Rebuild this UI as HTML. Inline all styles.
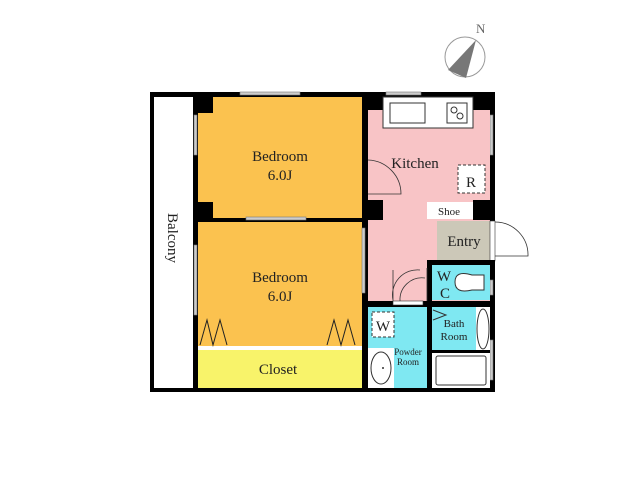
<!DOCTYPE html>
<html><head><meta charset="utf-8"><style>body{margin:0;background:#fff}svg{display:block}text{font-family:"Liberation Serif",serif;fill:#222}</style></head><body>
<svg width="640" height="480" viewBox="0 0 640 480" xmlns="http://www.w3.org/2000/svg">
<!-- compass -->
<circle cx="465" cy="57" r="20" fill="none" stroke="#999" stroke-width="1"/>
<polygon points="476,40 448,70 466,78" fill="#777"/>
<text x="476" y="33" font-family="Liberation Sans" font-size="13" fill="#666" style="fill:#666">N</text>
<!-- outer black -->
<rect x="150" y="92" width="345" height="300" fill="#000"/>
<rect x="154" y="97" width="39" height="291" fill="#fff"/>
<!-- bedrooms -->
<rect x="198" y="97" width="164" height="121" fill="#fbc24f"/>
<rect x="198" y="222" width="164" height="124" fill="#fbc24f"/>
<rect x="195" y="97" width="18" height="16" fill="#000"/>
<rect x="195" y="202" width="18" height="16" fill="#000"/>
<rect x="198" y="346" width="164" height="4" fill="#fff"/>
<rect x="198" y="350" width="164" height="38" fill="#f8f36a"/>
<!-- windows -->
<g fill="#ccc" stroke="#777" stroke-width="0.6">
<rect x="240" y="92" width="60" height="3"/><rect x="246" y="217" width="60" height="3"/>
<rect x="194" y="115" width="3" height="40"/><rect x="194" y="245" width="3" height="70"/>
<rect x="362" y="228" width="3" height="65"/><rect x="490" y="115" width="3" height="40"/>
<rect x="490" y="280" width="3" height="15"/><rect x="490" y="340" width="3" height="40"/>
<rect x="386" y="92" width="35" height="3"/>
</g>
<!-- closet zigzag -->
<polyline points="200,345 207,320 213,345 220,320 227,345" fill="none" stroke="#222" stroke-width="1"/>
<polyline points="327,345 334,320 341,345 348,320 355,345" fill="none" stroke="#222" stroke-width="1"/>
<!-- kitchen -->
<rect x="368" y="110" width="122" height="192" fill="#f8c4c6"/>
<rect x="368" y="200" width="15" height="20" fill="#000"/>
<rect x="383" y="97" width="90" height="31" fill="#fff" stroke="#333"/>
<rect x="390" y="103" width="35" height="20" fill="#fff" stroke="#333"/>
<rect x="447" y="103" width="20" height="20" fill="#fff" stroke="#333"/>
<circle cx="454" cy="110" r="3" fill="none" stroke="#333"/><circle cx="460" cy="116" r="3" fill="none" stroke="#333"/>
<rect x="458" y="165" width="27" height="28" fill="#fff" stroke="#333" stroke-dasharray="3,2"/>
<text x="471" y="187" font-size="15" text-anchor="middle">R</text>
<text x="415" y="168" font-size="15" text-anchor="middle">Kitchen</text>
<path d="M368 160 A34 34 0 0 1 401 194 L368 194" fill="none" stroke="#333" stroke-width="0.8"/>
<!-- shoe / entry -->
<rect x="473" y="200" width="22" height="20" fill="#000"/>
<rect x="427" y="202" width="46" height="17" fill="#fff"/>
<text x="449" y="215" font-size="11" text-anchor="middle">Shoe</text>
<rect x="437" y="221" width="53" height="40" fill="#ccc8b8"/>
<text x="464" y="246" font-size="15" text-anchor="middle">Entry</text>
<rect x="490" y="221" width="5" height="40" fill="#fff" stroke="#333" stroke-width="0.6"/>
<path d="M495 222 A33 33 0 0 1 528 256 L495 256" fill="none" stroke="#333" stroke-width="0.8"/>
<!-- WC block walls -->
<rect x="427" y="260" width="68" height="5" fill="#000"/>
<rect x="427" y="260" width="5" height="128" fill="#000"/>
<rect x="368" y="301" width="127" height="6" fill="#000"/>
<rect x="432" y="265" width="58" height="35" fill="#7fe8f2"/>
<text x="444" y="281" font-size="15" text-anchor="middle">W</text>
<text x="445" y="298" font-size="15" text-anchor="middle">C</text>
<path d="M484 275 L472 275 Q455 270 455 282 Q455 294 472 290 L484 290 Z" fill="#fff" stroke="#333"/>
<rect x="393" y="301" width="30" height="4" fill="#fff" stroke="#333" stroke-width="0.6"/>
<path d="M393 301 L393 270 M427 301 L427 268 M393 300 A25 25 0 0 1 420 270 M400 301 A22 22 0 0 1 425 278" fill="none" stroke="#333" stroke-width="0.8"/>
<!-- powder -->
<rect x="368" y="307" width="59" height="81" fill="#7fe8f2"/>
<rect x="372" y="312" width="22" height="25" fill="#fff" stroke="#333" stroke-dasharray="3,2"/>
<text x="383" y="331" font-size="15" text-anchor="middle">W</text>
<text x="408" y="355" font-size="9" text-anchor="middle">Powder</text>
<text x="408" y="365" font-size="9" text-anchor="middle">Room</text>
<rect x="368" y="348" width="26" height="40" fill="#fff"/>
<ellipse cx="381" cy="368" rx="10" ry="16" fill="#fff" stroke="#333"/>
<circle cx="383" cy="368" r="1" fill="#333"/>
<!-- bath -->
<rect x="432" y="307" width="44" height="43" fill="#7fe8f2"/>
<rect x="476" y="307" width="14" height="43" fill="#fff"/>
<ellipse cx="483" cy="329" rx="6" ry="20" fill="#fff" stroke="#333"/>
<polyline points="433,310 446,315 433,320" fill="none" stroke="#333"/>
<text x="454" y="327" font-size="11" text-anchor="middle">Bath</text>
<text x="454" y="340" font-size="11" text-anchor="middle">Room</text>
<rect x="432" y="350" width="58" height="3" fill="#000"/>
<rect x="432" y="353" width="58" height="35" fill="#fff"/>
<rect x="436" y="356" width="50" height="29" rx="2" fill="#fff" stroke="#333"/>
<!-- labels -->
<text x="280" y="161" font-size="15" text-anchor="middle">Bedroom</text>
<text x="280" y="180" font-size="15" text-anchor="middle">6.0J</text>
<text x="280" y="282" font-size="15" text-anchor="middle">Bedroom</text>
<text x="280" y="301" font-size="15" text-anchor="middle">6.0J</text>
<text x="278" y="374" font-size="15" text-anchor="middle">Closet</text>
<text font-size="15" text-anchor="middle" transform="translate(168,238) rotate(90)">Balcony</text>
</svg>
</body></html>
